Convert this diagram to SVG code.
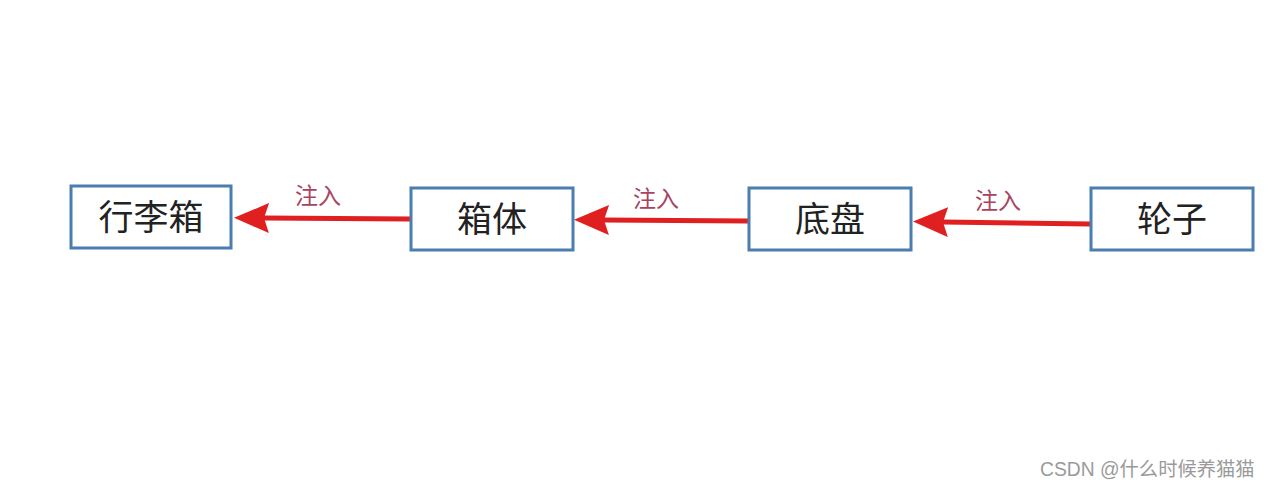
<svg xmlns="http://www.w3.org/2000/svg" width="1269" height="489" viewBox="0 0 1269 489">
<style>
.box{fill:#fff;stroke:#4a7db0;stroke-width:3}
.nt{font-family:"Liberation Serif","Noto Sans CJK SC",serif;font-size:35px;fill:#222;text-anchor:middle}
.lb{font-family:"Liberation Sans","Noto Sans CJK SC",sans-serif;font-size:23px;fill:#a8435f;text-anchor:middle}
.ar{stroke:#e02020;stroke-width:5;fill:none}
.wm{font-family:"Liberation Sans","Noto Sans CJK SC",sans-serif;font-size:19.3px;fill:#9a9a9a}
</style>
<defs>
<marker id="ah" markerWidth="7" markerHeight="6" refX="1" refY="3" orient="auto" markerUnits="strokeWidth">
<path d="M7,3 L0,0 L1,3 L0,6 Z" fill="#e02020"/>
</marker>
</defs>
<rect width="1269" height="489" fill="#fff"/>
<g id="connectors">
<path class="ar" d="M410,219 L264,218" marker-end="url(#ah)"/>
<path class="ar" d="M748,221 L604,220" marker-end="url(#ah)"/>
<path class="ar" d="M1090,224 L943,222" marker-end="url(#ah)"/>
<text class="lb" x="318" y="204">注入</text>
<text class="lb" x="656" y="207">注入</text>
<text class="lb" x="998" y="209">注入</text>
</g>
<g id="n1"><rect class="box" x="71" y="186" width="160" height="62"/><text class="nt" x="151" y="230">行李箱</text></g>
<g id="n2"><rect class="box" x="411" y="188" width="162" height="62"/><text class="nt" x="492" y="232">箱体</text></g>
<g id="n3"><rect class="box" x="749" y="188" width="162" height="62"/><text class="nt" x="830" y="232">底盘</text></g>
<g id="n4"><rect class="box" x="1091" y="188" width="162" height="62"/><text class="nt" x="1172" y="232">轮子</text></g>
<text class="wm" x="1040" y="476">CSDN @什么时候养猫猫</text>
</svg>
